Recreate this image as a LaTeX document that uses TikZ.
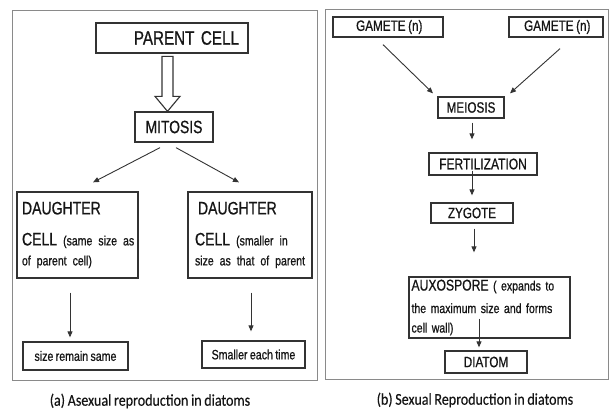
\documentclass[tikz,border=0pt]{standalone}
\usepackage{fontspec}
\setmainfont{Liberation Sans}
\newfontfamily\cond[FakeStretch=0.78, WordSpace=0.8, FakeBold=0.7]{Liberation Sans}
\newfontfamily\capfont[FakeStretch=0.85, WordSpace=0.85, FakeBold=0.3]{Carlito}
\usepackage{tikz}
\usetikzlibrary{positioning,arrows.meta,calc}
\definecolor{clinea}{HTML}{333333}
\definecolor{cmarco}{HTML}{8A8A8A}
\definecolor{ctexto}{HTML}{151515}
\tikzset{
  cuadro/.style={rectangle, draw=clinea, line width=1.3pt, inner sep=0pt,
    text=ctexto, font=\cond},
  marco/.style={draw=cmarco, line width=0.9pt},
  flechita/.style={-{Triangle[length=6pt,width=5pt]}, line width=0.9pt, draw=clinea},
  hueca/.style={draw=clinea, line width=1.1pt, fill=white},
  leyenda/.style={font=\capfont\fontsize{16.5}{18}\selectfont, text=ctexto},
}

\begin{document}
\begin{tikzpicture}[x=1pt, y=-1pt]
  \fill[white] (0,0) rectangle (610,414);
  \useasboundingbox (0,0) rectangle (610,414);

  % (a) asexual
  \draw[marco] (12.5,10) rectangle (317,380);
  \node[cuadro, minimum width=152, minimum height=30, text width=134, align=right,
    font=\cond\fontsize{19.5}{22}\selectfont] (padre) at (172,38) {PARENT CELL};
  \node[cuadro, minimum width=78, minimum height=30,
    font=\cond\fontsize{17.8}{20}\selectfont] (mitosis) at (174,127) {MITOSIS};
  \node[cuadro, minimum width=121, minimum height=86, text width=111, align=left,
    font=\cond\fontsize{18}{20}\selectfont] (hijaA) at (77.5,235)
    {DAUGHTER\\[11pt] \mbox{CELL {\fontsize{13.5}{16}\selectfont (same size as}}\\
     \mbox{\fontsize{13.5}{16}\selectfont of parent cell)}};
  \node[cuadro, minimum width=124, minimum height=86, text width=110, align=left,
    font=\cond\fontsize{18}{20}\selectfont] (hijaB) at (250,235)
    {\,DAUGHTER\\[11pt] \mbox{CELL {\fontsize{13.5}{16}\selectfont (smaller in}}\\
     \mbox{\fontsize{13.5}{16}\selectfont size as that of parent}};
  \node[cuadro, minimum width=105, minimum height=28,
    font=\cond\fontsize{13.6}{16}\selectfont] (igual) at (75.5,356) {size remain same};
  \node[cuadro, minimum width=103, minimum height=27,
    font=\cond\fontsize{13.6}{16}\selectfont] (menor) at (253.5,354.5) {Smaller each time};
  \node[leyenda] (leyA) at (150,401) {(a) Asexual reproduction in diatoms};

  \draw[hueca] ([xshift=-6.5]mitosis.north) -- ++(-12.5,-15) -- ++(7,0) -- ++(0,-40)
    -- ++(11,0) -- ++(0,40) -- ++(7,0) -- cycle;
  \draw[flechita] ([xshift=-14,yshift=-5]mitosis.south) -- ([xshift=15.5,yshift=9]hijaA.north);
  \draw[flechita] ([xshift=2,yshift=-5]mitosis.south) -- ([xshift=-11,yshift=9]hijaB.north);
  \draw[flechita] ([xshift=-7.5,yshift=-14]hijaA.south) -- ([xshift=-5.5,yshift=4]igual.north);
  \draw[flechita] ([xshift=1,yshift=-14]hijaB.south) -- ([xshift=-2.5,yshift=9]menor.north);

  % (b) sexual
  \draw[marco] (325,9) rectangle (608,379);
  \node[cuadro, minimum width=110, minimum height=20,
    font=\cond\fontsize{15}{17}\selectfont] (gamA) at (388,27) {\ GAMETE (n)};
  \node[cuadro, minimum width=94, minimum height=20,
    font=\cond\fontsize{15}{17}\selectfont] (gamB) at (556,27) {\ GAMETE (n)};
  \node[cuadro, minimum width=66, minimum height=21,
    font=\cond\fontsize{15}{17}\selectfont] (meiosis) at (471,107.5) {MEIOSIS};
  \node[cuadro, minimum width=108, minimum height=22,
    font=\cond\fontsize{15.4}{17}\selectfont] (fert) at (483,164) {FERTILIZATION};
  \node[cuadro, minimum width=82, minimum height=20,
    font=\cond\fontsize{15}{17}\selectfont] (cigoto) at (472,213) {ZYGOTE};
  \node[cuadro, minimum width=161, minimum height=61, text width=156, align=left,
    font=\cond\fontsize{13.5}{19.5}\selectfont] (auxo) at (489.5,307.5)
    {\mbox{{\fontsize{15.6}{17}\selectfont AUXOSPORE} ( expands to}\\[3pt]
     \mbox{the maximum size and forms}\\ cell wall)};
  \node[cuadro, minimum width=82, minimum height=22,
    font=\cond\fontsize{15}{17}\selectfont] (diatomo) at (486,362) {DIATOM};
  \node[leyenda] (leyB) at (475,400) {(b) Sexual Reproduction in diatoms};

  \draw[flechita] ([xshift=-5,yshift=-7]gamA.south) -- ([xshift=-38,yshift=3]meiosis.north);
  \draw[flechita] ([xshift=4,yshift=-11]gamB.south) -- ([xshift=39,yshift=3]meiosis.north);
  \draw[flechita] ([xshift=1,yshift=-4]meiosis.south) -- ([xshift=-11,yshift=13]fert.north);
  \draw[flechita] ([xshift=-11,yshift=5]fert.south) -- ([yshift=7]cigoto.north);
  \draw[flechita] ([xshift=2,yshift=-5]cigoto.south) -- ([xshift=-15.5,yshift=24]auxo.north);
  \draw[flechita] ([xshift=-10.5,yshift=20]auxo.south) -- ([xshift=-7,yshift=3]diatomo.north);
\end{tikzpicture}
\end{document}
